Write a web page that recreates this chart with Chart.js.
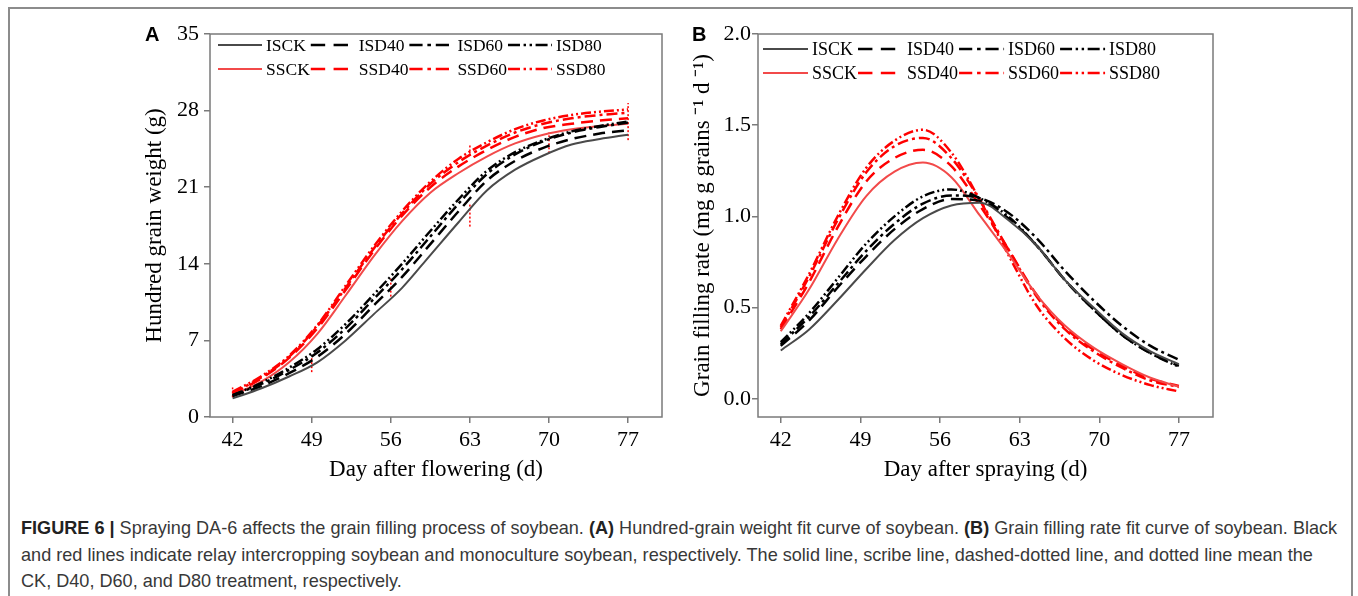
<!DOCTYPE html>
<html>
<head>
<meta charset="utf-8">
<script src="https://cdn.jsdelivr.net/npm/chart.js@4.4.1/dist/chart.umd.min.js"></script>
<style>
  body { margin: 0; background: #fff; width: 1358px; height: 596px; overflow: hidden; position: relative; }
  #frame { position: absolute; left: 8px; top: 7px; width: 1345px; height: 640px; border: 2px solid #8c8c8c; box-sizing: border-box; }
  .panel { position: absolute; top: 0; }
  #wrapA { left: 100px; }
  #wrapB { left: 650px; }
  .lab { position: absolute; top: 24px; font: bold 20px 'Liberation Sans', Arial, sans-serif; line-height: 20px; }
  #cap { position: absolute; left: 21px; top: 515px; width: 1330px; font: 18.1px 'Liberation Sans', Arial, sans-serif; line-height: 26.5px; color: #383838; white-space: nowrap; }
  #cap b { color: #222; }
</style>
</head>
<body>
<div id="frame"></div>
<div class="panel" id="wrapA"><canvas id="chart-a" width="580" height="490"></canvas></div>
<div class="panel" id="wrapB"><canvas id="chart-b" width="580" height="490"></canvas></div>
<div class="lab" style="left:145px">A</div>
<div class="lab" style="left:692px">B</div>
<div id="cap"><b>FIGURE 6 |</b> Spraying DA-6 affects the grain filling process of soybean. <b>(A)</b> Hundred-grain weight fit curve of soybean. <b>(B)</b> Grain filling rate fit curve of soybean. Black<br>and red lines indicate relay intercropping soybean and monoculture soybean, respectively. The solid line, scribe line, dashed-dotted line, and dotted line mean the<br>CK, D40, D60, and D80 treatment, respectively.</div>

<script>
// Fig. 6 soybean grain filling. A = hundred grain weight, B = grain filling rate.
// Values every 2.5 d.

const DAYS = [42, 44.5, 47, 49.5, 52, 54.5, 57, 59.5, 62, 64.5, 67, 69.5, 72, 74.5, 77];
const X_TICKS = [42, 49, 56, 63, 70, 77];
const A_Y_TICKS = [0, 7, 14, 21, 28, 35];
const B_Y_TICKS = [0, 0.5, 1.0, 1.5, 2.0];

// A: hundred grain weight (g)
const A_ISCK  = [1.7, 2.6, 3.7, 5.0, 7.0, 9.4, 11.8, 14.8, 17.8, 20.7, 22.6, 23.9, 24.9, 25.4, 25.8];
const A_ISD40 = [1.9, 2.8, 4.0, 5.5, 7.6, 10.2, 12.8, 15.8, 18.8, 21.6, 23.4, 24.6, 25.4, 25.9, 26.2];
const A_ISD60 = [2.0, 3.0, 4.3, 5.9, 8.1, 10.8, 13.5, 16.5, 19.5, 22.2, 24.0, 25.2, 26.0, 26.5, 26.9];
const A_ISD80 = [2.0, 3.1, 4.5, 6.2, 8.5, 11.2, 14.0, 17.0, 19.9, 22.5, 24.2, 25.3, 26.1, 26.6, 27.0];
const A_SSCK  = [2.0, 3.2, 5.0, 7.6, 11.1, 14.7, 17.9, 20.5, 22.3, 23.8, 25.0, 25.8, 26.3, 26.6, 26.8];
const A_SSD40 = [2.1, 3.5, 5.4, 8.1, 11.6, 15.2, 18.4, 21.0, 22.9, 24.4, 25.6, 26.4, 26.8, 27.1, 27.3];
const A_SSD60 = [2.2, 3.6, 5.5, 8.3, 11.8, 15.4, 18.6, 21.3, 23.3, 24.8, 26.0, 26.8, 27.3, 27.6, 27.8];
const A_SSD80 = [2.3, 3.7, 5.6, 8.4, 12.0, 15.6, 18.8, 21.5, 23.6, 25.1, 26.3, 27.1, 27.6, 27.9, 28.1];

// B: grain filling rate (mg g grains-1 d-1)
const B_ISCK  = [0.265, 0.38, 0.54, 0.71, 0.87, 0.99, 1.06, 1.075, 0.98, 0.84, 0.65, 0.50, 0.36, 0.26, 0.19];
const B_ISD40 = [0.29, 0.43, 0.61, 0.78, 0.93, 1.04, 1.095, 1.085, 0.99, 0.84, 0.65, 0.49, 0.35, 0.25, 0.18];
const B_ISD60 = [0.30, 0.45, 0.63, 0.81, 0.96, 1.07, 1.115, 1.10, 1.02, 0.88, 0.70, 0.54, 0.40, 0.29, 0.214];
const B_ISD80 = [0.31, 0.47, 0.66, 0.85, 1.0, 1.11, 1.148, 1.10, 1.00, 0.84, 0.65, 0.49, 0.35, 0.25, 0.175];
const B_SSCK  = [0.37, 0.60, 0.875, 1.11, 1.245, 1.295, 1.215, 1.005, 0.795, 0.57, 0.40, 0.28, 0.19, 0.115, 0.066];
const B_SSD40 = [0.38, 0.64, 0.94, 1.19, 1.32, 1.365, 1.275, 1.06, 0.82, 0.57, 0.39, 0.27, 0.18, 0.11, 0.07];
const B_SSD60 = [0.39, 0.67, 0.98, 1.24, 1.385, 1.43, 1.32, 1.09, 0.82, 0.56, 0.38, 0.26, 0.17, 0.10, 0.065];
const B_SSD80 = [0.40, 0.685, 1.0, 1.265, 1.415, 1.475, 1.35, 1.09, 0.79, 0.51, 0.33, 0.21, 0.13, 0.075, 0.04];

// little red dotted error ticks left on panel A
const A_ERR_DAYS = [42, 49, 56, 63, 63, 70, 77];
const A_ERR_LOW  = [1.8, 4.1, 11.0, 17.4, 23.9, 24.1, 25.3];
const A_ERR_HIGH = [2.7, 5.4, 12.8, 19.6, 24.9, 26.0, 28.7];

const SOLID = [], DASH = [12, 7], DASHDOT = [11, 4, 3, 4], DASHDOT2 = [10, 3, 2, 3, 2, 3];
const AXIS = '#7a7a7a';

const SERIES = [
  { label: 'ISCK',  a: A_ISCK,  b: B_ISCK,  color: '#4a4a4a', dash: SOLID,    width: 2 },
  { label: 'ISD40', a: A_ISD40, b: B_ISD40, color: '#000',    dash: DASH,     width: 2.5 },
  { label: 'ISD60', a: A_ISD60, b: B_ISD60, color: '#000',    dash: DASHDOT,  width: 2.5 },
  { label: 'ISD80', a: A_ISD80, b: B_ISD80, color: '#000',    dash: DASHDOT2, width: 2.5 },
  { label: 'SSCK',  a: A_SSCK,  b: B_SSCK,  color: '#f24a4a', dash: SOLID,    width: 2 },
  { label: 'SSD40', a: A_SSD40, b: B_SSD40, color: '#f00',    dash: DASH,     width: 2.5 },
  { label: 'SSD60', a: A_SSD60, b: B_SSD60, color: '#f00',    dash: DASHDOT,  width: 2.5 },
  { label: 'SSD80', a: A_SSD80, b: B_SSD80, color: '#f00',    dash: DASHDOT2, width: 2.5 },
];

Chart.defaults.font.family = "'Liberation Serif', 'Times New Roman', serif";
Chart.defaults.color = '#000';

function el(id) { return document.getElementById(id); }
function pts(vals) { return DAYS.map((d, i) => ({ x: d, y: vals[i] })); }

const boxFrame = {
  id: 'boxFrame',
  afterDatasetsDraw(chart) {
    const { ctx, chartArea: a } = chart;
    ctx.save();
    ctx.strokeStyle = AXIS; ctx.lineWidth = 1.5;
    ctx.strokeRect(a.left, a.top, a.right - a.left, a.bottom - a.top);
    ctx.restore();
  },
};

// legend sits inside the plot box, 4 columns x 2 rows like the original
const boxLegend = {
  id: 'boxLegend',
  afterDraw(chart, args, o) {
    const ctx = chart.ctx, area = chart.chartArea;
    const items = chart.data.datasets.filter(ds => !ds.errBar);
    ctx.save();
    ctx.font = `${o.size}px 'Liberation Serif', serif`;
    ctx.textBaseline = 'middle';
    const colX = [area.left + o.dx];
    for (let c = 0; c < 3; c++) {
      const w = Math.max(...items.filter((_, i) => i % 4 === c).map(ds => ctx.measureText(ds.label).width));
      colX.push(colX[c] + o.line + o.gap + w + o.after);
    }
    items.forEach((ds, i) => {
      const x = colX[i % 4], y = area.top + o.dy + Math.floor(i / 4) * o.rowH;
      ctx.strokeStyle = ds.borderColor; ctx.lineWidth = ds.borderWidth;
      ctx.setLineDash(ds.borderDash.map(v => v * 1.2));
      ctx.beginPath(); ctx.moveTo(x, y); ctx.lineTo(x + o.line, y); ctx.stroke();
      ctx.setLineDash([]);
      ctx.fillStyle = '#000';
      ctx.fillText(ds.label, x + o.line + o.gap, y + 1);
    });
    ctx.restore();
  },
};

function makeChart(id, key, cfg) {
  const datasets = SERIES.map(s => ({
    label: s.label, data: pts(s[key]), borderColor: s.color, borderWidth: s.width, borderDash: s.dash,
    pointRadius: 0, fill: false, cubicInterpolationMode: 'monotone',
  }));
  (cfg.errDays || []).forEach((d, i) => datasets.push({
    errBar: true, label: 'err', data: [{ x: d, y: cfg.errLow[i] }, { x: d, y: cfg.errHigh[i] }],
    borderColor: '#f00', borderWidth: 1.5, borderDash: [2, 2], pointRadius: 0, fill: false,
  }));

  const axisGrid = { drawOnChartArea: false, tickLength: 6, color: AXIS, lineWidth: 1.5 };
  return new Chart(el(id), {
    type: 'line',
    data: { datasets },
    options: {
      responsive: false, animation: false, events: [],
      layout: { padding: { top: 34, right: cfg.padRight, left: 0, bottom: 0 } },
      plugins: { legend: { display: false }, tooltip: { enabled: false }, boxLegend: cfg.legend },
      scales: {
        x: {
          type: 'linear', min: 40, max: 80,
          afterBuildTicks: s => { s.ticks = X_TICKS.map(v => ({ value: v })); },
          afterFit: s => { s.height = 73; },
          grid: axisGrid, border: { display: false },
          ticks: { font: { size: 22 }, padding: 4, maxRotation: 0, autoSkip: false },
          title: { display: true, text: cfg.xTitle, font: { size: 23 }, padding: { top: 0, bottom: 6 } },
        },
        y: {
          type: 'linear', min: cfg.yMin, max: cfg.yMax,
          afterBuildTicks: s => { s.ticks = cfg.yTicks.map(v => ({ value: v })); },
          afterFit: s => { s.width = cfg.yWidth; },
          grid: axisGrid, border: { display: false },
          ticks: { font: { size: 22 }, padding: cfg.yTickPad, callback: cfg.yFmt },
          title: { display: true, text: cfg.yTitle, font: { size: 23 }, padding: { top: cfg.yTitlePad, bottom: 0 } },
        },
      },
    },
    plugins: [boxFrame, boxLegend],
  });
}

makeChart('chart-a', 'a', {
  padRight: 18, yWidth: 110, yTitlePad: 41, yTickPad: 5,
  yMin: 0, yMax: 35, yTicks: A_Y_TICKS, yFmt: v => String(v),
  xTitle: 'Day after flowering (d)', yTitle: 'Hundred grain weight (g)',
  legend: { dx: 8, dy: 11, rowH: 24, size: 17.5, line: 44, gap: 4, after: 1 },
  errDays: A_ERR_DAYS, errLow: A_ERR_LOW, errHigh: A_ERR_HIGH,
});

makeChart('chart-b', 'b', {
  padRight: 17, yWidth: 108, yTitlePad: 39, yTickPad: 1,
  yMin: -0.1, yMax: 2.0, yTicks: B_Y_TICKS, yFmt: v => v.toFixed(1),
  xTitle: 'Day after spraying (d)', yTitle: 'Grain filling rate (mg g grains \u207B\u00B9 d \u207B\u00B9)',
  legend: { dx: 5, dy: 15, rowH: 24, size: 18, line: 45, gap: 4, after: 1 },
});
</script>
</body>
</html>
